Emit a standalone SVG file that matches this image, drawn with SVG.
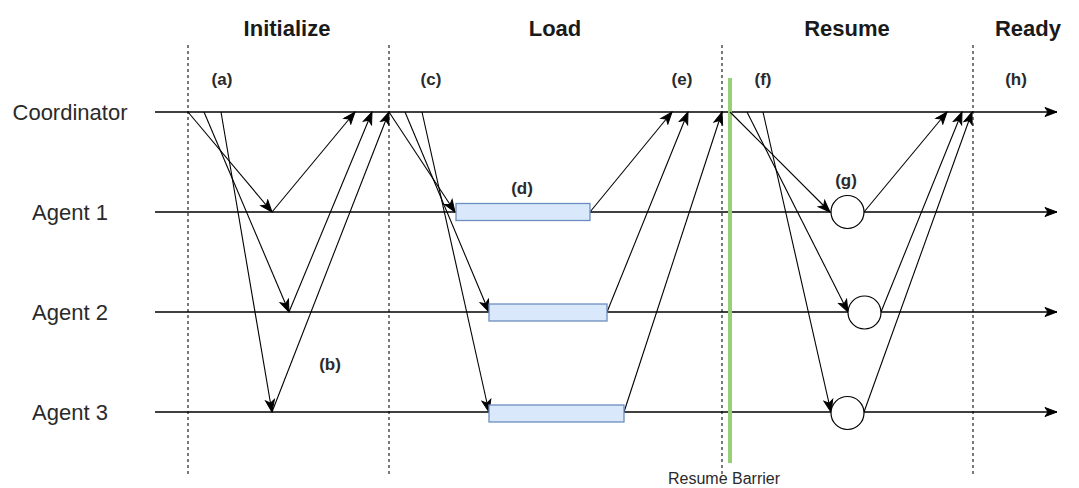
<svg xmlns="http://www.w3.org/2000/svg" width="1079" height="488" viewBox="0 0 1079 488">
  <defs>
    <marker id="arrow" markerUnits="userSpaceOnUse" markerWidth="14" markerHeight="12" viewBox="-1 -6 14 12" refX="12" refY="0" orient="auto">
      <path d="M0,-4.5 L12,0 L0,4.5 L3,0 Z" fill="#000" stroke="#000" stroke-width="1"/>
    </marker>
    <style>
      .phase { font-family: "Liberation Sans", Arial, sans-serif; font-size: 22px; font-weight: bold; fill: #1a1a1a; text-anchor: middle; }
      .lane-label { font-family: "Liberation Sans", Arial, sans-serif; font-size: 22px; fill: #2a2a2a; text-anchor: middle; }
      .step { font-family: "Liberation Sans", Arial, sans-serif; font-size: 17px; font-weight: bold; fill: #2a2a2a; text-anchor: middle; }
      .note { font-family: "Liberation Sans", Arial, sans-serif; font-size: 16px; fill: #2a2a2a; text-anchor: middle; }
      .divider { stroke: #222; stroke-width: 1.2; stroke-dasharray: 3 3; fill: none; }
      .lane { stroke: #000; stroke-width: 1.4; fill: none; marker-end: url(#arrow); }
      .msg { stroke: #000; stroke-width: 1.1; fill: none; marker-end: url(#arrow); }
      .load { fill: #dae8fc; stroke: #6c8ebf; stroke-width: 1.3; }
      .resume { fill: #fff; stroke: #000; stroke-width: 1.2; }
      .barrier { stroke: #97d077; stroke-width: 4; fill: none; }
    </style>
  </defs>

  <rect x="0" y="0" width="1079" height="488" fill="#fff"/>

  <!-- phase headings -->
  <g id="phases">
    <text class="phase" x="287" y="36">Initialize</text>
    <text class="phase" x="555" y="36">Load</text>
    <text class="phase" x="847" y="36">Resume</text>
    <text class="phase" x="1028" y="36">Ready</text>
  </g>

  <!-- phase boundaries -->
  <g id="dividers">
    <line class="divider" x1="188" y1="45" x2="188" y2="474"/>
    <line class="divider" x1="389" y1="45" x2="389" y2="474"/>
    <line class="divider" x1="722" y1="45" x2="722" y2="474"/>
    <line class="divider" x1="973" y1="45" x2="973" y2="474"/>
  </g>

  <!-- timelines -->
  <g id="lane-coordinator">
    <text class="lane-label" x="70" y="120">Coordinator</text>
    <line class="lane" x1="155" y1="112" x2="1057" y2="112"/>
  </g>
  <g id="lane-agent1">
    <text class="lane-label" x="70" y="220">Agent 1</text>
    <line class="lane" x1="155" y1="212" x2="1057" y2="212"/>
  </g>
  <g id="lane-agent2">
    <text class="lane-label" x="70" y="320">Agent 2</text>
    <line class="lane" x1="155" y1="312" x2="1057" y2="312"/>
  </g>
  <g id="lane-agent3">
    <text class="lane-label" x="70" y="420">Agent 3</text>
    <line class="lane" x1="155" y1="412" x2="1057" y2="412"/>
  </g>

  <!-- barrier -->
  <g id="resume-barrier">
    <line class="barrier" x1="730" y1="78" x2="730" y2="463"/>
    <text class="note" x="724" y="484">Resume Barrier</text>
  </g>

  <!-- messages -->
  <g id="connectors">
    <!-- initialize: requests -->
    <line class="msg" x1="188" y1="112" x2="272" y2="212"/>
    <line class="msg" x1="204" y1="112" x2="289" y2="312"/>
    <line class="msg" x1="221" y1="112" x2="272" y2="412"/>
    <!-- initialize: acknowledgements -->
    <line class="msg" x1="272" y1="212" x2="355" y2="112"/>
    <line class="msg" x1="289" y1="312" x2="372" y2="112"/>
    <line class="msg" x1="272" y1="412" x2="389" y2="112"/>

    <!-- load: requests -->
    <line class="msg" x1="389" y1="112" x2="455" y2="212"/>
    <line class="msg" x1="405" y1="112" x2="489" y2="312"/>
    <line class="msg" x1="422" y1="112" x2="489" y2="412"/>
    <!-- load: completion -->
    <line class="msg" x1="590" y1="212" x2="672" y2="112"/>
    <line class="msg" x1="607" y1="312" x2="688" y2="112"/>
    <line class="msg" x1="624" y1="412" x2="722" y2="112"/>

    <!-- resume: requests -->
    <line class="msg" x1="730" y1="112" x2="830" y2="212"/>
    <line class="msg" x1="747" y1="112" x2="848" y2="312"/>
    <line class="msg" x1="763" y1="112" x2="831" y2="412"/>
    <!-- resume: acknowledgements -->
    <line class="msg" x1="864" y1="212" x2="947" y2="112"/>
    <line class="msg" x1="881" y1="312" x2="962" y2="112"/>
    <line class="msg" x1="864" y1="412" x2="972" y2="112"/>
  </g>

  <!-- load tasks -->
  <g id="load-agent1"><rect class="load" x="456" y="203.5" width="134" height="17"/></g>
  <g id="load-agent2"><rect class="load" x="489" y="304" width="118" height="17"/></g>
  <g id="load-agent3"><rect class="load" x="489" y="405" width="135" height="17"/></g>

  <!-- resume tasks -->
  <g id="resume-agent1"><circle class="resume" cx="847.5" cy="212" r="16.5"/></g>
  <g id="resume-agent2"><circle class="resume" cx="864.5" cy="312.5" r="16.5"/></g>
  <g id="resume-agent3"><circle class="resume" cx="847.5" cy="413" r="16.5"/></g>

  <!-- step markers -->
  <g id="steps">
    <text class="step" x="222" y="85">(a)</text>
    <text class="step" x="330" y="370">(b)</text>
    <text class="step" x="431" y="85">(c)</text>
    <text class="step" x="522" y="194">(d)</text>
    <text class="step" x="682" y="85">(e)</text>
    <text class="step" x="763" y="85">(f)</text>
    <text class="step" x="846" y="186">(g)</text>
    <text class="step" x="1016" y="85">(h)</text>
  </g>
</svg>
